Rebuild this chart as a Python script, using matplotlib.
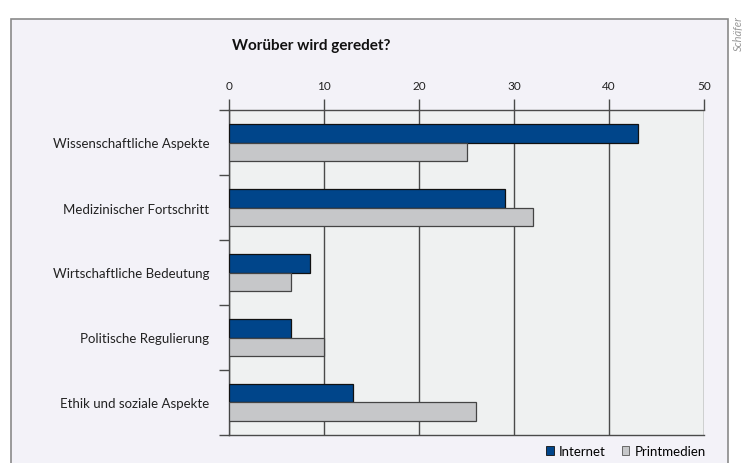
import matplotlib.pyplot as plt
from matplotlib.patches import Rectangle, Patch
import numpy as np

plt.rcParams['font.family'] = ['Lato', 'DejaVu Sans']

# data (top to bottom)
categories = ["Wissenschaftliche Aspekte", "Medizinischer Fortschritt",
              "Wirtschaftliche Bedeutung", "Politische Regulierung",
              "Ethik und soziale Aspekte"]
internet = [43, 29, 8.5, 6.5, 13]
printmedien = [25, 32, 6.5, 10, 26]
x_ticks = [0, 10, 20, 30, 40, 50]

col_internet = "#00458a"
col_print = "#c6c7c9"
frame_bg = "#f3f2f8"
plot_bg = "#eff1f1"
line_col = "#4a4a4a"

W, H = 745, 464
fig = plt.figure(figsize=(W / 100, H / 100), dpi=100)
fig.patch.set_facecolor("white")

# outer frame
fig.patches.append(Rectangle((10.5 / W, -0.1), (728 - 10.5) / W, 1.1 - 20 / H,
                             transform=fig.transFigure, facecolor=frame_bg,
                             edgecolor="#8a8a8a", linewidth=1.2, zorder=-5))

ax = fig.add_axes([229 / W, 1 - 436 / H, (704 - 229) / W, (436 - 111) / H])
ax.set_zorder(5)
ax.set_facecolor(plot_bg)

y = np.arange(len(categories))
h = 0.28
ax.barh(y - h / 2, internet, height=h, color=col_internet, edgecolor="#111111",
        linewidth=0.9, zorder=3, label="Internet")
ax.barh(y + h / 2, printmedien, height=h, color=col_print, edgecolor="#444444",
        linewidth=0.9, zorder=3, label="Printmedien")

ax.set_xlim(0, 50)
ax.set_ylim(len(categories) - 0.5, -0.5)

# x axis on top
ax.xaxis.tick_top()
ax.set_xticks(x_ticks)
ax.tick_params(axis='x', direction='out', length=8, width=1, color=line_col,
               labelsize=8.5, pad=6, labelcolor="#222222")
for xv in x_ticks:
    ax.axvline(xv, color=line_col, linewidth=1, zorder=1)

# y axis: boundary ticks, labels at centers
ax.set_yticks(np.arange(len(categories) + 1) - 0.5)
ax.set_yticklabels([])
ax.tick_params(axis='y', direction='out', length=7.5, width=1, color=line_col)
ax.set_yticks(y, minor=True)
ax.set_yticklabels(categories, minor=True)
ax.tick_params(axis='y', which='minor', length=0, pad=14, labelsize=9.5,
               labelcolor="#222222")

for s in ["top", "left", "bottom"]:
    ax.spines[s].set_color(line_col)
    ax.spines[s].set_linewidth(1)
ax.spines["right"].set_visible(False)

fig.text(232 / W, 1 - 46 / H, "Worüber wird geredet?", fontsize=11,
         fontweight="bold", ha="left", va="center", color="#111111")

fig.text(738 / W, 1 - 34 / H, "Schäfer", rotation=90, fontsize=8,
         style="italic", color="#9a9a9a", ha="center", va="center")

handles = [Patch(facecolor=col_internet, edgecolor="#111111", linewidth=0.6, label="Internet"),
           Patch(facecolor=col_print, edgecolor="#555555", linewidth=0.6, label="Printmedien")]
fig.legend(handles=handles, loc="center right", bbox_to_anchor=(706 / W, 1 - 452 / H),
           ncol=2, frameon=False, borderaxespad=0, borderpad=0, fontsize=9.5,
           handlelength=0.6, handleheight=0.6, handletextpad=0.4, columnspacing=1.2)

fig.savefig("out.png", dpi=100)
